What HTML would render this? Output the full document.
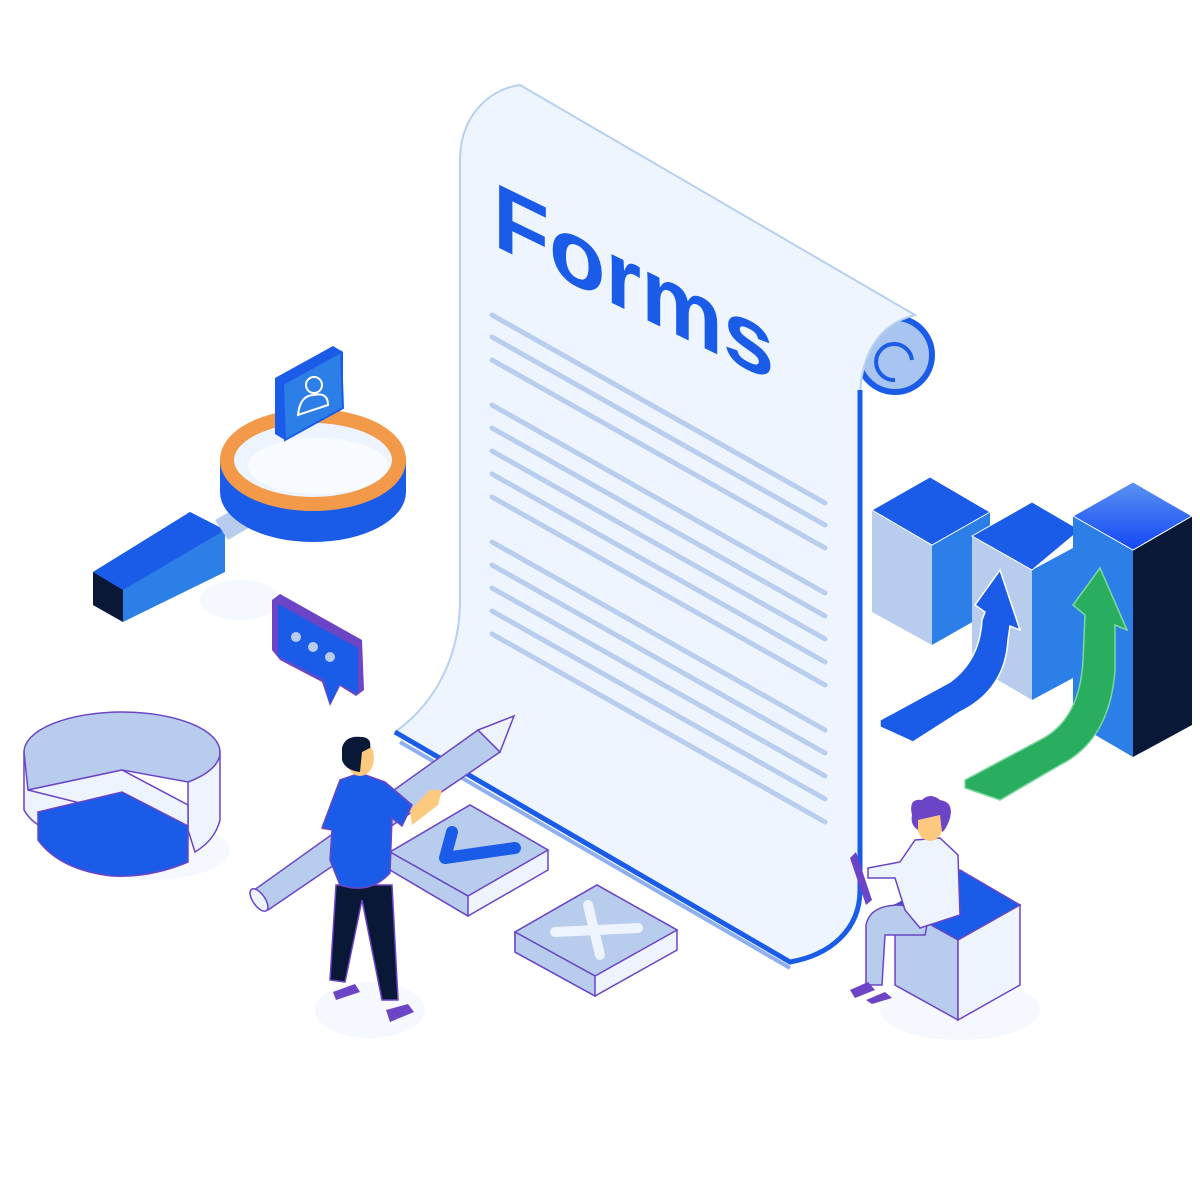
<!DOCTYPE html>
<html><head><meta charset="utf-8"><style>html,body{margin:0;padding:0;background:#fff}svg{display:block}</style></head>
<body>
<svg width="1200" height="1200" viewBox="0 0 1200 1200" xmlns="http://www.w3.org/2000/svg" font-family="Liberation Sans, sans-serif">
<rect width="1200" height="1200" fill="#fff"/>
<ellipse cx="370" cy="1010" rx="55" ry="28" fill="#f5f8fe"/>
<ellipse cx="960" cy="1010" rx="80" ry="30" fill="#f5f8fe"/>
<ellipse cx="150" cy="850" rx="80" ry="30" fill="#f5f8fe"/>

<!-- pie chart -->
<path d="M24 752 L24 810 Q40 840 122 846 L122 790 Z" fill="#eef4fe" stroke="#6b45c6" stroke-width="1.5"/>
<path d="M188 830 L195 852 Q215 840 220 820 L220 752 L188 760 Z" fill="#eef4fe" stroke="#6b45c6" stroke-width="1.5"/>
<path d="M24 752 A98 40 0 0 1 220 752 A98 40 0 0 1 188 782 L122 770 L28 790 Z" fill="#b8ccee" stroke="#6b45c6" stroke-width="1.5"/>
<path d="M28 790 L122 770 L188 805 L188 830 Z" fill="#eef4fe" stroke="#6b45c6" stroke-width="1.5"/>
<path d="M38 812 L122 792 L188 826 L188 862 Q150 878 112 876 Q60 870 38 840 Z" fill="#1a5ce8" stroke="#6b45c6" stroke-width="1.5"/>

<!-- magnifier -->
<ellipse cx="240" cy="600" rx="40" ry="20" fill="#f5f8fe"/>
<path d="M93 572 L190 512 L225 530 L225 572 L123 622 L93 605 Z" fill="#2d7fe8"/>
<path d="M93 572 L190 512 L225 530 L123 590 Z" fill="#1a5ce8"/>
<path d="M93 572 L123 590 L123 622 L93 605 Z" fill="#0a1838"/>
<path d="M215 520 L250 500 L262 520 L228 540 Z" fill="#b8ccee"/>
<path d="M220 460 L220 492 A93 50 0 0 0 406 492 L406 460 Z" fill="#1a5ce8"/>
<ellipse cx="313" cy="460" rx="86" ry="44" fill="#eef4fe" stroke="#f2994a" stroke-width="14"/>
<ellipse cx="318" cy="466" rx="70" ry="28" fill="#fff" opacity="0.6"/>
<path d="M275 378 L333 346 L343 352 L343 408 L285 440 L275 434 Z" fill="#1a5ce8"/>
<path d="M283 384 L341 352 L343 408 L285 440 Z" fill="#2d7fe8" stroke="#1a5ce8" stroke-width="2"/>
<circle cx="314" cy="385" r="8" fill="none" stroke="#fff" stroke-width="2"/>
<path d="M298 415 Q300 395 314 395 Q328 392 328 405 Z" fill="none" stroke="#fff" stroke-width="2"/>

<!-- speech bubble -->
<path d="M272 600 L280 594 L362 640 L364 690 L356 696 L340 686 L330 706 L322 682 L280 660 L272 650 Z" fill="#6b45c6"/>
<path d="M278 604 L358 648 L358 694 L340 684 L330 704 L324 680 L278 656 Z" fill="#1a5ce8"/>
<circle cx="296" cy="637" r="5" fill="#b8ccee"/><circle cx="313" cy="647" r="5" fill="#b8ccee"/><circle cx="330" cy="657" r="5" fill="#b8ccee"/>

<!-- roll -->
<circle cx="895" cy="355" r="37" fill="#a8c4f0" stroke="#1a5ce8" stroke-width="6"/>
<!-- document -->
<path d="M520 85 L915 315 C875 325 860 360 860 400 L860 890 C860 930 830 955 790 962 L395 732 C440 700 460 650 460 600 L460 160 C460 120 485 90 520 85 Z" fill="#eef5fe" stroke="#b8d0ef" stroke-width="2"/>
<path d="M395 732 L790 962 C830 955 860 930 860 890 L860 390" fill="none" stroke="#1a5ce8" stroke-width="5"/>
<path d="M400 742 L790 968" stroke="#8fb0f0" stroke-width="4"/>
<path d="M895 380 A18 18 0 1 1 912 360" fill="none" stroke="#1a5ce8" stroke-width="4"/>
<text transform="translate(493,245) skewY(26)" font-size="92" font-weight="bold" fill="#1a5ce8">Forms</text>
<g stroke="#b9cdee" stroke-width="5" stroke-linecap="round">
<line x1="492" y1="315" x2="825" y2="503"/><line x1="492" y1="337" x2="825" y2="525"/><line x1="492" y1="360" x2="825" y2="548"/>
<line x1="492" y1="405" x2="825" y2="593"/><line x1="492" y1="428" x2="825" y2="616"/><line x1="492" y1="451" x2="825" y2="639"/><line x1="492" y1="474" x2="825" y2="662"/><line x1="492" y1="497" x2="825" y2="685"/>
<line x1="492" y1="542" x2="825" y2="730"/><line x1="492" y1="565" x2="825" y2="753"/><line x1="492" y1="588" x2="825" y2="776"/><line x1="492" y1="611" x2="825" y2="799"/><line x1="492" y1="634" x2="825" y2="822"/>
</g>

<!-- check box -->
<path d="M390 852 L470 805 L548 850 L548 870 L468 916 L390 870 Z" fill="#eef4fe" stroke="#6b45c6" stroke-width="1.5"/>
<path d="M390 852 L470 805 L548 850 L468 896 Z" fill="#b8ccee" stroke="#6b45c6" stroke-width="1.5"/>
<path d="M390 852 L468 896 L468 916 L390 870 Z" fill="#b8ccee" stroke="#6b45c6" stroke-width="1.5"/>
<path d="M452 832 L445 858 L515 848" fill="none" stroke="#1a5ce8" stroke-width="12" stroke-linecap="round" stroke-linejoin="round"/>
<!-- x box -->
<path d="M515 932 L597 885 L677 930 L677 950 L595 996 L515 952 Z" fill="#eef4fe" stroke="#6b45c6" stroke-width="1.5"/>
<path d="M515 932 L597 885 L677 930 L595 976 Z" fill="#b8ccee" stroke="#6b45c6" stroke-width="1.5"/>
<path d="M515 932 L595 976 L595 996 L515 952 Z" fill="#b8ccee" stroke="#6b45c6" stroke-width="1.5"/>
<g stroke="#eef4fe" stroke-width="10" stroke-linecap="round"><line x1="555" y1="932" x2="638" y2="928"/><line x1="588" y1="905" x2="600" y2="955"/></g>

<!-- pencil -->
<path d="M250 893 L478 730 L500 752 L268 910 Z" fill="#b8ccee" stroke="#6b45c6" stroke-width="1.5"/>
<path d="M478 730 L514 716 L500 752 Z" fill="#eef4fe" stroke="#6b45c6" stroke-width="1.5"/>
<ellipse cx="259" cy="900" rx="6" ry="13" transform="rotate(-35 259 900)" fill="#eef4fe" stroke="#6b45c6" stroke-width="1.5"/>

<!-- person left -->
<path d="M336 885 L330 980 L345 982 L362 900 L382 1000 L398 1000 L392 885 Z" fill="#0a1838" stroke="#6b45c6" stroke-width="1.5"/>
<path d="M333 992 L355 984 L360 992 L336 1000 Z" fill="#6b45c6"/>
<path d="M386 1010 L408 1004 L414 1012 L390 1022 Z" fill="#6b45c6"/>
<path d="M410 810 L430 790 L442 790 L438 805 L412 825 Z" fill="#fcc97e"/>
<path d="M325 820 L322 830 L335 830 L336 820 Z" fill="#fcc97e"/>
<path d="M340 780 L360 773 L385 782 L412 805 L402 826 L392 818 L390 873 Q370 895 340 885 L330 860 L332 830 L322 828 Z" fill="#1a5ce8" stroke="#6b45c6" stroke-width="1.5"/>
<ellipse cx="360" cy="758" rx="14" ry="18" fill="#fcc97e"/>
<path d="M342 748 Q345 735 362 737 Q372 738 370 748 L362 752 L360 772 Q345 770 342 760 Z" fill="#0a1838"/>

<!-- bars -->
<path d="M872 510 L932 545 L932 645 L872 612 Z" fill="#b8ccee"/>
<path d="M932 545 L990 512 L990 612 L932 645 Z" fill="#2d7fe8"/>
<path d="M872 510 L930 477 L990 512 L932 545 Z" fill="#1a5ce8" stroke="#fff" stroke-width="1"/>
<path d="M972 536 L1032 570 L1032 700 L972 665 Z" fill="#b8ccee"/>
<path d="M1032 570 L1073 548 L1073 678 L1032 700 Z" fill="#2d7fe8"/>
<path d="M972 536 L1032 502 L1080 530 L1032 570 Z" fill="#1a5ce8" stroke="#fff" stroke-width="1"/>
<path d="M1073 516 L1133 550 L1133 757 L1073 722 Z" fill="#2d7fe8"/>
<path d="M1133 550 L1192 516 L1192 725 L1133 757 Z" fill="#0a1838"/>
<defs><linearGradient id="g3" x1="0" y1="0" x2="0" y2="1"><stop offset="0" stop-color="#5b93f2"/><stop offset="1" stop-color="#1346f5"/></linearGradient></defs>
<path d="M1073 516 L1133 482 L1192 516 L1133 550 Z" fill="url(#g3)" stroke="#fff" stroke-width="1"/>
<path d="M880 720 L950 682 Q980 660 982 620 L985 612 L975 605 L1000 570 L1020 630 L1010 626 L1008 640 Q1005 690 960 712 L913 742 L880 727 Z" fill="#1a5ce8" stroke="#fff" stroke-width="1.5"/>
<path d="M965 780 L1040 740 Q1080 720 1083 660 L1085 615 L1073 605 L1100 568 L1127 630 L1115 625 L1115 670 Q1110 740 1060 765 L1000 800 L965 788 Z" fill="#29ae5f" stroke="#7ed6a0" stroke-width="1.5"/>

<!-- cube seat -->
<path d="M895 905 L960 870 L1020 905 L958 940 Z" fill="#1a5ce8" stroke="#6b45c6" stroke-width="1.5"/>
<path d="M895 905 L958 940 L958 1020 L895 985 Z" fill="#b8ccee" stroke="#6b45c6" stroke-width="1.5"/>
<path d="M958 940 L1020 905 L1020 985 L958 1020 Z" fill="#eef4fe" stroke="#6b45c6" stroke-width="1.5"/>
<!-- person right -->
<path d="M866 925 Q870 905 900 905 L930 910 L925 935 L885 935 L882 985 L866 985 Z" fill="#b8ccee" stroke="#6b45c6" stroke-width="1.5"/>
<path d="M850 990 L868 982 L875 990 L855 998 Z" fill="#6b45c6"/>
<path d="M866 1000 L885 992 L892 998 L872 1004 Z" fill="#6b45c6"/>
<path d="M915 840 L940 838 L958 855 L960 915 L920 928 L905 910 L895 878 L868 878 L868 868 L900 862 Z" fill="#eef4fe" stroke="#6b45c6" stroke-width="1.5"/>
<path d="M850 858 L856 852 L872 900 L866 905 Z" fill="#6b45c6"/>
<ellipse cx="930" cy="825" rx="13" ry="16" fill="#fcc97e"/>
<path d="M912 815 Q908 798 922 800 Q930 792 940 800 Q954 802 950 818 Q946 830 942 832 L940 815 L918 820 L918 830 Q910 825 912 815 Z" fill="#6b45c6"/>
</svg>
</body></html>
